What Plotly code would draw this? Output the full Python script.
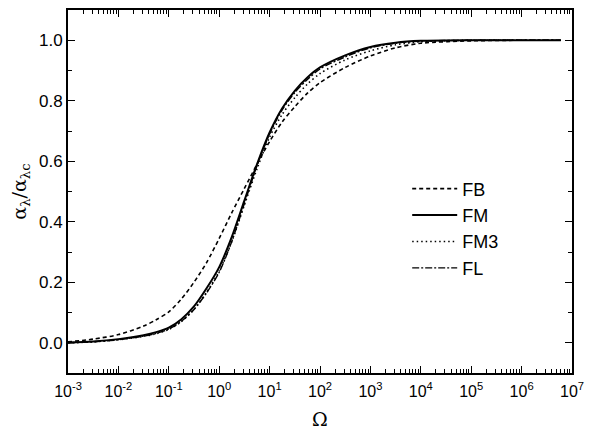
import plotly.graph_objects as go

omega = [0.001, 0.00316, 0.01, 0.0316, 0.0562, 0.1, 0.178, 0.316, 0.562, 1.0, 1.78, 3.16, 5.62,
         10.0, 17.8, 31.6, 56.2, 100.0, 316.0, 1000.0, 3160.0, 10000.0, 100000.0, 1000000.0,
         6000000.0]

fb  = [0.003, 0.012, 0.027, 0.055, 0.076, 0.102, 0.145, 0.2, 0.265, 0.345, 0.43, 0.51, 0.59,
       0.665, 0.73, 0.78, 0.825, 0.86, 0.91, 0.948, 0.975, 0.99, 0.998, 1.0, 1.0]
fm  = [0.0, 0.004, 0.012, 0.025, 0.035, 0.05, 0.078, 0.12, 0.18, 0.25, 0.35, 0.47, 0.59,
       0.695, 0.775, 0.833, 0.877, 0.91, 0.95, 0.978, 0.992, 0.998, 1.0, 1.0, 1.0]
fm3 = [0.0, 0.003, 0.01, 0.021, 0.03, 0.044, 0.07, 0.11, 0.167, 0.237, 0.335, 0.455, 0.575,
       0.68, 0.755, 0.81, 0.855, 0.89, 0.935, 0.965, 0.985, 0.995, 1.0, 1.0, 1.0]
fl  = [0.0, 0.003, 0.01, 0.022, 0.031, 0.045, 0.071, 0.11, 0.165, 0.233, 0.335, 0.46, 0.585,
       0.69, 0.77, 0.827, 0.87, 0.905, 0.945, 0.975, 0.99, 0.997, 1.0, 1.0, 1.0]

names = ["FB", "FM", "FM3", "FL"]
series = [fb, fm, fm3, fl]
dashes = ["4px,3px", "solid", "1.5px,3px", "7px,2px,2px,2px"]
widths = [1.6, 2.0, 1.6, 1.4]

xtick_vals = [1e-3, 1e-2, 1e-1, 1e0, 1e1, 1e2, 1e3, 1e4, 1e5, 1e6, 1e7]
xtick_text = ["10<sup>-3</sup>", "10<sup>-2</sup>", "10<sup>-1</sup>", "10<sup>0</sup>",
              "10<sup>1</sup>", "10<sup>2</sup>", "10<sup>3</sup>", "10<sup>4</sup>",
              "10<sup>5</sup>", "10<sup>6</sup>", "10<sup>7</sup>"]
ytick_vals = [0.0, 0.2, 0.4, 0.6, 0.8, 1.0]
ytick_text = ["0.0", "0.2", "0.4", "0.6", "0.8", "1.0"]

fig = go.Figure()
for n, s, d, w in zip(names, series, dashes, widths):
    fig.add_trace(go.Scatter(x=omega, y=s, mode="lines", name=n,
                             line=dict(color="black", width=w, dash=d,
                                       shape="spline", smoothing=0.8)))

font_family = "Liberation Sans, Arial, sans-serif"
fig.update_layout(
    width=597, height=425,
    margin=dict(l=60, r=33, t=2, b=60),
    paper_bgcolor="white", plot_bgcolor="white",
    font=dict(family=font_family, color="black", size=16),
    showlegend=True,
    legend=dict(x=0.673, y=0.558, xanchor="left", yanchor="top",
                font=dict(size=18, family=font_family), bgcolor="rgba(0,0,0,0)",
                itemwidth=45, tracegroupgap=0),
    xaxis=dict(type="log", range=[-3, 7], tickvals=xtick_vals, ticktext=xtick_text,
               ticks="inside", ticklen=7, tickwidth=1.2, tickcolor="black",
               showline=True, linewidth=1.8, linecolor="black", mirror="allticks",
               showgrid=False, zeroline=False, automargin=False,
               minor=dict(ticks="inside", ticklen=4, tickwidth=1, tickcolor="black",
                          dtick="D1", showgrid=False),
               tickfont=dict(size=16), ticklabelstandoff=3,
               title=dict(text="Ω", font=dict(size=19, family="DejaVu Serif, serif"), standoff=14)),
    yaxis=dict(range=[-0.1, 1.1], tickvals=ytick_vals, ticktext=ytick_text,
               ticks="inside", ticklen=7, tickwidth=1.2, tickcolor="black",
               showline=True, linewidth=1.8, linecolor="black", mirror="allticks",
               showgrid=False, zeroline=False, automargin=False,
               minor=dict(ticks="inside", ticklen=4, tickwidth=1, tickcolor="black",
                          dtick=0.1, showgrid=False),
               tickfont=dict(size=17),
               title=dict(text="α<sub>λ</sub>/α<sub>λc</sub>",
                          font=dict(size=19, family="DejaVu Serif, serif"), standoff=10)),
)

fig.write_html("out.html")
